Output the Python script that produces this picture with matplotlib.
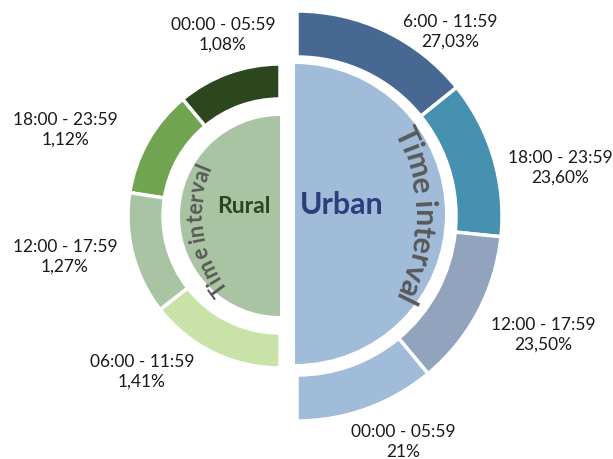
import matplotlib
matplotlib.use("Agg")
import matplotlib.pyplot as plt
import numpy as np
from matplotlib.patches import Wedge
from matplotlib.font_manager import FontProperties

# ── Data ──────────────────────────────────────────────────────────
urban_intervals = ["6:00 - 11:59", "18:00 - 23:59", "12:00 - 17:59", "00:00 - 05:59"]
urban_shares    = [27.03, 23.60, 23.50, 21.0]
urban_pct_text  = ["27,03%", "23,60%", "23,50%", "21%"]

rural_intervals = ["00:00 - 05:59", "18:00 - 23:59", "12:00 - 17:59", "06:00 - 11:59"]
rural_shares    = [1.08, 1.12, 1.27, 1.41]
rural_pct_text  = ["1,08%", "1,12%", "1,27%", "1,41%"]

group_names = ["Urban", "Rural"]
inner_label = "Time interval"

# ── Style / layout ────────────────────────────────────────────────
urban_colors = ["#476893", "#4690b0", "#92a3bd", "#a1bcd8"]
rural_colors = ["#2c461e", "#70a450", "#a8c4a2", "#c9e2a8"]
urban_core   = "#a1bcd8"
rural_core   = "#a8c4a2"
text_grey    = "#595959"

W, H = 613, 460
urban_c      = (295, H - 215)
urban_ring_c = (297, H - 217)
rural_c      = (280, H - 217)

urban_label_xy = [(450, H - 32), (560, H - 168), (543, H - 335), (403, H - 442)]
rural_label_xy = [(223, H - 35), (65, H - 130), (65, H - 257), (142, H - 372)]

fig = plt.figure(figsize=(W / 100, H / 100), dpi=100)
ax = fig.add_axes([0, 0, 1, 1])
ax.set_xlim(0, W)
ax.set_ylim(0, H)
ax.set_aspect("equal")
ax.axis("off")


def half_ring(center, shares, colors, r_out, width, start, direction):
    spans = np.array(shares) / np.sum(shares) * 180.0
    edges = start + direction * np.concatenate([[0], np.cumsum(spans)])
    for i, col in enumerate(colors):
        a, b = sorted((edges[i], edges[i + 1]))
        ax.add_patch(Wedge(center, r_out, a, b, width=width,
                           facecolor=col, edgecolor="white", lw=2.5))


# ── Cores ─────────────────────────────────────────────────────────
ax.add_patch(Wedge(urban_c, 150, -90, 90, facecolor=urban_core, edgecolor="none"))
ax.add_patch(Wedge(rural_c, 100, 90, 270, facecolor=rural_core, edgecolor="none"))

# ── Rings (clockwise for urban, counter-clockwise for rural) ──────
half_ring(urban_ring_c, urban_shares, urban_colors, 205, 46, 90, -1)
half_ring(rural_c, rural_shares, rural_colors, 152, 35, 90, +1)

# ── Segment labels ────────────────────────────────────────────────
lab_font = dict(family="Lato", fontsize=12.5, color="#1a1a1a",
                ha="center", va="center", linespacing=1.3)
for (x, y), t, p in zip(urban_label_xy, urban_intervals, urban_pct_text):
    ax.text(x, y, f"{t}\n{p}", **lab_font)
for (x, y), t, p in zip(rural_label_xy, rural_intervals, rural_pct_text):
    ax.text(x, y, f"{t}\n{p}", **lab_font)

ax.text(342, H - 205, group_names[0], family="Lato", fontsize=22,
        fontweight="bold", color="#2b3f7c", ha="center", va="center")
ax.text(244, H - 207, group_names[1], family="Lato", fontsize=16.5,
        fontweight="bold", color="#2c461e", ha="center", va="center")

# ── Curved "Time interval" text (WordArt-like arch) ───────────────
fig.canvas.draw()
renderer = fig.canvas.get_renderer()


def curved_text(text, center, r_base, th_first, th_last, size, weight="normal"):
    """Spread the letters of `text` along an arc, first/last letter
    centres at th_first / th_last degrees, tops pointing outward."""
    prop = FontProperties(family="Lato", size=size, weight=weight)
    width = lambda s: renderer.get_text_width_height_descent(s, prop, ismath=False)[0]
    pos = [width(text[:i + 1]) - width(ch) / 2 for i, ch in enumerate(text)]
    s0, s1 = pos[0], pos[-1]
    for ch, s in zip(text, pos):
        if ch == " ":
            continue
        th = th_first + (th_last - th_first) * (s - s0) / (s1 - s0)
        x = center[0] + r_base * np.cos(np.radians(th))
        y = center[1] + r_base * np.sin(np.radians(th))
        ax.text(x, y, ch, fontproperties=prop, color=text_grey,
                rotation=th - 90, rotation_mode="anchor",
                ha="center", va="baseline")


curved_text(inner_label, (237, H - 215), 177, 25, -26.5, 22, "bold")
curved_text(inner_label, (320, H - 214), 118, 216, 158, 15.5, "bold")

fig.savefig("out.png", dpi=100)
